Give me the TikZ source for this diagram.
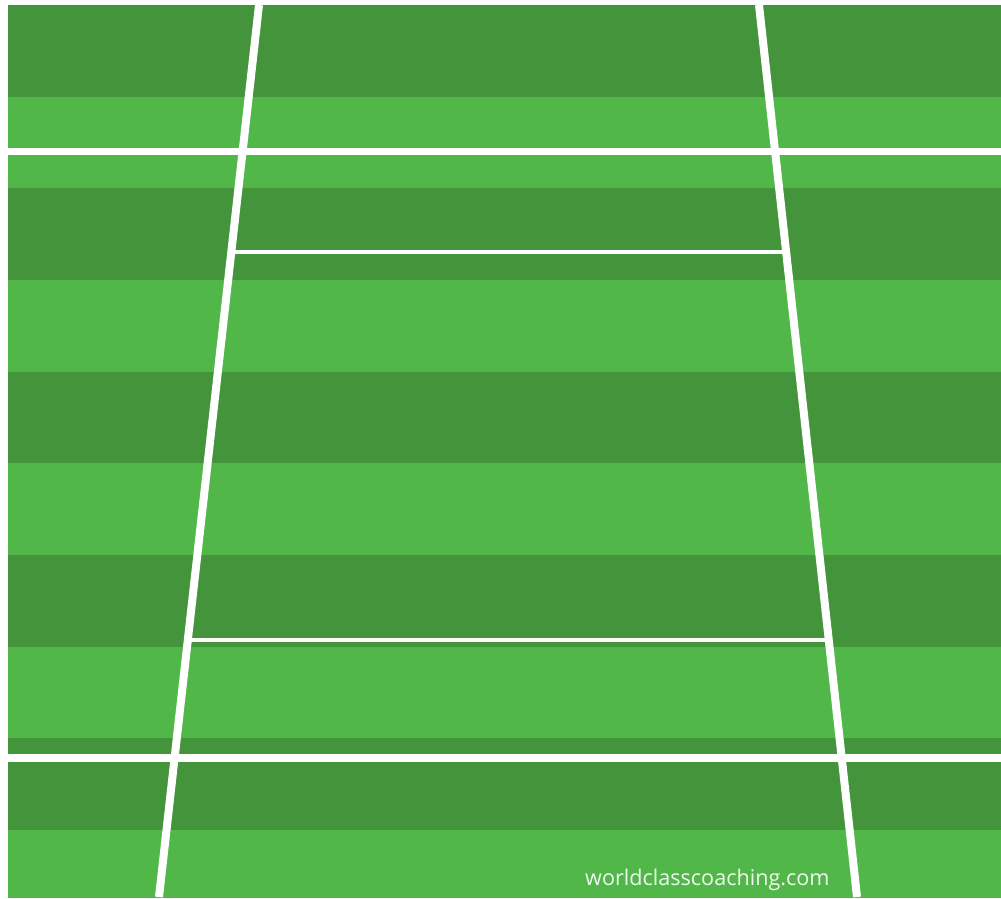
\documentclass[tikz,border=0pt]{standalone}
\usepackage{fontspec}
\setmainfont{Open Sans}
\usetikzlibrary{calc}
\definecolor{pitchdark}{RGB}{67,148,59}
\definecolor{pitchlight}{RGB}{82,183,73}
\begin{document}
\begin{tikzpicture}[x=1pt,y=-1pt,
mark line/.style={draw=white,line width=#1},
mark line/.default=8pt]
\fill[white] (0,0) rectangle (1001,899);
\begin{scope}
\clip (8,5) rectangle (1001,897);
\foreach \k in {0,...,9} {
  \pgfmathsetmacro{\ytop}{5+91.67*\k}
  \pgfmathtruncatemacro{\odd}{mod(\k,2)}
  \ifnum\odd=0 \fill[pitchdark] (8,\ytop) rectangle (1001,\ytop+91.67);
  \else \fill[pitchlight] (8,\ytop) rectangle (1001,\ytop+91.67); \fi
}
\coordinate (lt) at (259,5);
\coordinate (lb) at (159,897);
\coordinate (rt) at (759,5);
\coordinate (rb) at (857,897);
\coordinate (gl1) at (8,151);
\coordinate (gr1) at (1001,151);
\coordinate (gl2) at (8,758);
\coordinate (gr2) at (1001,758);
\draw[mark line=7pt] (gl1) -- (gr1);
\draw[mark line=8pt] (gl2) -- (gr2);
\draw[mark line=3.5pt] ($(lt)!0.277!(lb)$) -- ($(rt)!0.277!(rb)$);
\draw[mark line=3.5pt] ($(lt)!0.712!(lb)$) -- ($(rt)!0.712!(rb)$);
\draw[mark line] (lt) -- (lb);
\draw[mark line] (rt) -- (rb);
\end{scope}
\node[anchor=base west,inner sep=0,text=white,text opacity=0.9,font=\fontsize{21.6}{24}\selectfont] (site) at (585,885) {worldclasscoaching.com};
\end{tikzpicture}
\end{document}
